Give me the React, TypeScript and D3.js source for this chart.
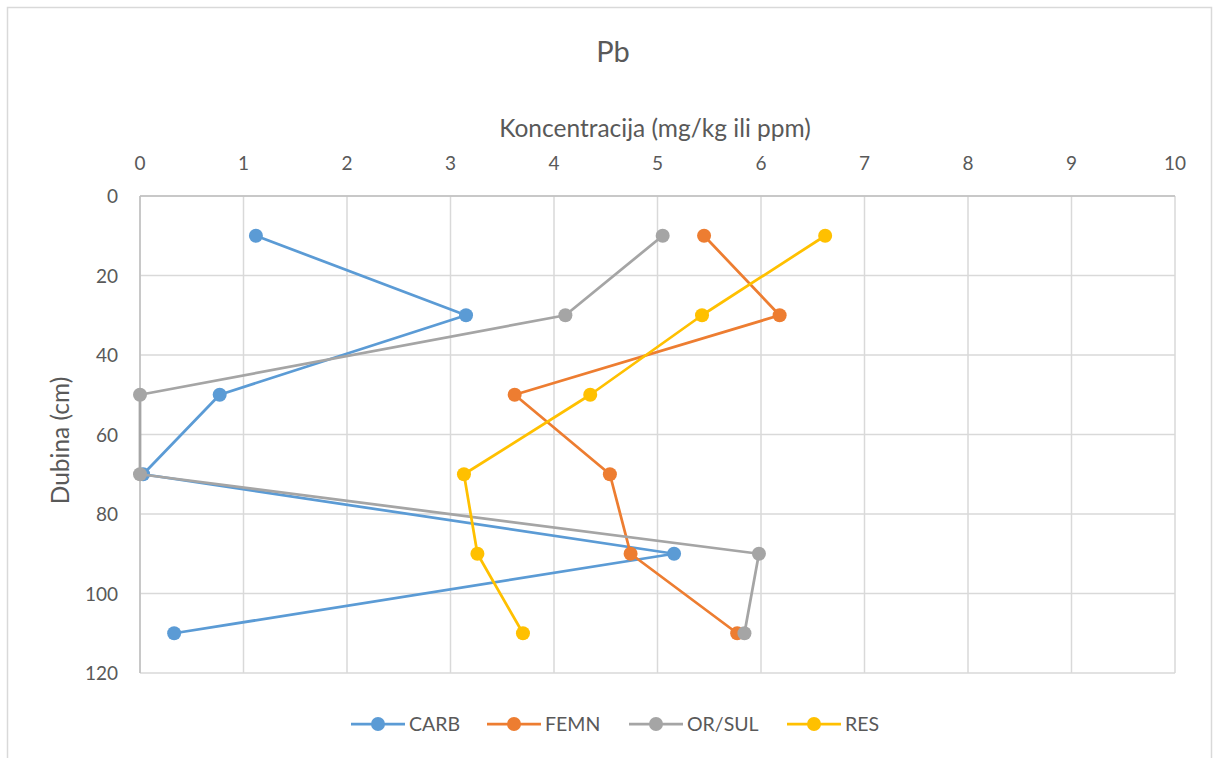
import React from "react";
import * as d3 from "d3";

const depths = [10, 30, 50, 70, 90, 110];
const seriesNames = ["CARB", "FEMN", "OR/SUL", "RES"];
const carb = [1.12, 3.15, 0.77, 0.03, 5.16, 0.33];
const femn = [5.45, 6.18, 3.62, 4.54, 4.74, 5.77];
const orsul = [5.05, 4.11, 0.0, 0.0, 5.98, 5.84];
const res = [6.62, 5.43, 4.35, 3.13, 3.26, 3.7];
const colors = ["#5B9BD5", "#ED7D31", "#A5A5A5", "#FFC000"];
const xTicks = [0, 1, 2, 3, 4, 5, 6, 7, 8, 9, 10];
const yTicks = [0, 20, 40, 60, 80, 100, 120];

const W = 1213;
const H = 758;
const FONT = "Lato, 'Open Sans', sans-serif";
const TXT = "#595959";

export default function App() {
  const x = d3.scaleLinear().domain([0, 10]).range([140, 1175]);
  const y = d3.scaleLinear().domain([0, 120]).range([196, 673]);
  const values = [carb, femn, orsul, res];
  const line = d3
    .line<[number, number]>()
    .x((d) => x(d[0]))
    .y((d) => y(d[1]));

  const legendX = [351, 487, 629, 787];

  return (
    <svg
      width={W}
      height={H}
      style={{ position: "absolute", left: 0, top: 0, background: "#fff" }}
      fontFamily={FONT}
    >
      <rect x={0} y={0} width={W} height={H} fill="#fff" />
      <rect x={7.5} y={7.5} width={W - 9} height={H} fill="none" stroke="#D9D9D9" strokeWidth={1.5} />
      <text x={613} y={62} textAnchor="middle" fontSize={29} fill={TXT}>
        Pb
      </text>
      <text x={655} y={137} textAnchor="middle" fontSize={24.5} fill={TXT}>
        Koncentracija (mg/kg ili ppm)
      </text>
      <text
        transform={`translate(69,${y(61.5)}) rotate(-90)`}
        textAnchor="middle"
        fontSize={24.5}
        fill={TXT}
      >
        Dubina (cm)
      </text>
      {xTicks.map((t) => (
        <g key={"x" + t}>
          <line x1={x(t)} x2={x(t)} y1={y(0)} y2={y(120)} stroke="#D9D9D9" strokeWidth={1.5} />
          <text x={x(t)} y={170} textAnchor="middle" fontSize={19} fill={TXT}>
            {t}
          </text>
        </g>
      ))}
      {yTicks.map((t) => (
        <g key={"y" + t}>
          <line x1={x(0)} x2={x(10)} y1={y(t)} y2={y(t)} stroke="#D9D9D9" strokeWidth={1.5} />
          <text x={118} y={y(t) + 7} textAnchor="end" fontSize={19} fill={TXT}>
            {t}
          </text>
        </g>
      ))}
      <line x1={x(0)} x2={x(0)} y1={y(0)} y2={y(120)} stroke="#BFBFBF" strokeWidth={1.5} />
      <line x1={x(0)} x2={x(10)} y1={y(0)} y2={y(0)} stroke="#BFBFBF" strokeWidth={1.5} />
      {values.map((vals, i) => {
        const pts: [number, number][] = vals.map((v, j) => [v, depths[j]]);
        return (
          <g key={seriesNames[i]}>
            <path d={line(pts) || ""} fill="none" stroke={colors[i]} strokeWidth={2.75} strokeLinejoin="round" />
            {pts.map((p, j) => (
              <circle key={j} cx={x(p[0])} cy={y(p[1])} r={7} fill={colors[i]} />
            ))}
          </g>
        );
      })}
      {seriesNames.map((n, i) => (
        <g key={"lg" + n}>
          <line x1={legendX[i]} x2={legendX[i] + 54} y1={724} y2={724} stroke={colors[i]} strokeWidth={2.75} />
          <circle cx={legendX[i] + 27} cy={724} r={7} fill={colors[i]} />
          <text x={legendX[i] + 58} y={731} fontSize={19.5} fill={TXT}>
            {n}
          </text>
        </g>
      ))}
    </svg>
  );
}
